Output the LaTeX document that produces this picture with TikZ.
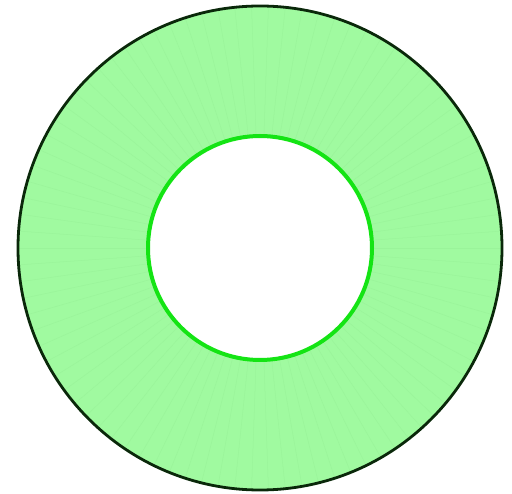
\documentclass[tikz,border=0pt]{standalone}
\usetikzlibrary{calc}
\definecolor{ringfill}{RGB}{160,250,160}
\definecolor{rayc}{RGB}{145,235,145}
\definecolor{outerline}{RGB}{10,40,10}
\definecolor{innerline}{RGB}{20,228,20}
\tikzset{
  outerring/.style={draw=outerline, line width=2.8pt},
  innerring/.style={draw=innerline, line width=4pt, fill=white},
  rayline/.style={draw=rayc, line width=0.5pt, opacity=0.4}
}
\begin{document}
\begin{tikzpicture}[x=1pt,y=-1pt]
\useasboundingbox (0,0) rectangle (512,494);
\coordinate (c) at (260,248);
\fill[ringfill] (c) circle (242);
\foreach \a in {0,4,...,356} {
  \draw[rayline] ($(c)+(\a:113)$) -- ($(c)+(\a:241)$);
}
\draw[outerring] (c) circle (242);
\draw[innerring] (c) circle (112);
\end{tikzpicture}
\end{document}
